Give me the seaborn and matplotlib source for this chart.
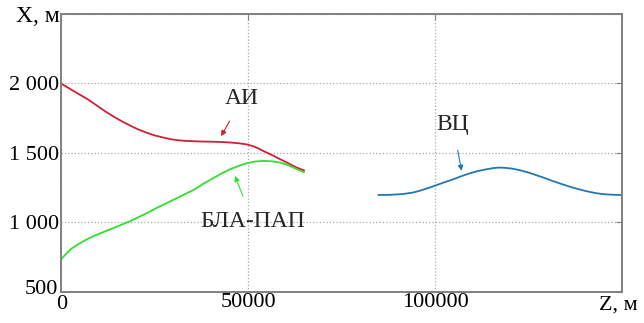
import pandas as pd
import numpy as np
import seaborn as sns
import matplotlib.pyplot as plt
from matplotlib.ticker import FuncFormatter
from matplotlib.transforms import ScaledTranslation

# values
ai_z = [0, 2800, 5000, 7300, 9500, 11800, 14000, 16200, 18500, 20700, 23000, 25100, 27500, 29600, 31500,
        33200, 36000, 38500, 40700, 43000, 45000, 47500, 49600, 51500, 53000, 54100, 55500, 57000, 58600,
        60500, 62100, 63500, 65000]
ai_x = [2000, 1955, 1920, 1884, 1843, 1800, 1763, 1729, 1697, 1669, 1645, 1626, 1610, 1598, 1591,
        1587, 1584, 1582, 1581, 1579, 1576, 1570, 1562, 1548, 1530, 1514, 1497, 1477, 1455,
        1430, 1407, 1390, 1375]

bla_z = [0, 1400, 2800, 5000, 7300, 9500, 11800, 14000, 16200, 18500, 20700, 23000, 25100, 27500, 29600,
         31500, 33200, 35400, 38000, 40700, 43000, 45200, 47500, 49600, 52000, 54100, 56500, 58600, 60500,
         62100, 63500, 65000]
bla_x = [735, 775, 812, 850, 884, 911, 936, 960, 984, 1010, 1038, 1068, 1098, 1130, 1157,
         1182, 1205, 1233, 1278, 1319, 1354, 1383, 1407, 1426, 1439, 1443, 1440, 1431, 1415,
         1395, 1378, 1362]

vc_z = [84800, 88000, 91500, 94000, 96000, 98200, 100400, 102600, 104900, 107000, 109400, 111600, 113800,
        115500, 117000, 118800, 120500, 122700, 124900, 127100, 129400, 131600, 133900, 136100, 138300,
        140500, 142800, 144600, 146500, 148300, 150000]
vc_x = [1198, 1199, 1205, 1215, 1229, 1248, 1269, 1290, 1311, 1333, 1355, 1371, 1383,
        1391, 1395, 1393, 1388, 1376, 1360, 1340, 1319, 1297, 1276, 1257, 1240,
        1225, 1212, 1205, 1201, 1199, 1198]

df = pd.concat([
    pd.DataFrame({"Z": ai_z, "X": ai_x, "name": "АИ"}),
    pd.DataFrame({"Z": bla_z, "X": bla_x, "name": "БЛА-ПАП"}),
    pd.DataFrame({"Z": vc_z, "X": vc_x, "name": "ВЦ"}),
])
colors = {"АИ": "#cc2233", "БЛА-ПАП": "#33dd33", "ВЦ": "#2277b4"}

sns.set_style("white")
plt.rcParams['font.family'] = ['Liberation Serif', 'DejaVu Serif']

fig = plt.figure(figsize=(6.44, 3.23), dpi=100)
ax = fig.add_axes([0.0947, 0.096, 0.8713, 0.8607])

for name in ["АИ", "БЛА-ПАП", "ВЦ"]:
    sns.lineplot(data=df[df["name"] == name], x="Z", y="X", color=colors[name],
                 linewidth=1.3, sort=False, ax=ax, estimator=None)

ax.set_xlim(0, 150000)
ax.set_ylim(500, 2500)
ax.set_xticks([0, 50000, 100000, 150000])
ax.set_yticks([500, 1000, 1500, 2000, 2500])
ax.xaxis.set_major_formatter(FuncFormatter(lambda v, p: "Z, м" if v == 150000 else "%d" % v))
ax.yaxis.set_major_formatter(FuncFormatter(lambda v, p: "X, м" if v == 2500 else ("%d" % v if v < 1000 else "%d %03d" % (v // 1000, v % 1000))))
ax.set_xlabel("")
ax.set_ylabel("")
ax.tick_params(direction="in", length=4, top=True, right=True, labelsize=16, colors="#808080", labelcolor="black", pad=1)
ax.grid(True, linestyle=":", color="#aaaaaa", linewidth=0.9)
for s in ax.spines.values():
    s.set_color("#808080")
    s.set_linewidth(1.4)

# nudge corner labels like the original
ylabels = ax.get_yticklabels()
ylabels[0].set_transform(ylabels[0].get_transform() + ScaledTranslation(-0.02, 0.05, fig.dpi_scale_trans))
ylabels[-1].set_fontsize(17)
xlabels = ax.get_xticklabels()
xlabels[0].set_transform(xlabels[0].get_transform() + ScaledTranslation(0.01, -0.02, fig.dpi_scale_trans))
xlabels[-1].set_transform(xlabels[-1].get_transform() + ScaledTranslation(-0.04, -0.02, fig.dpi_scale_trans))

# annotations
ax.annotate("АИ", xy=(42800, 1621), xytext=(48400, 1889), fontsize=17, ha="center", va="center",
            arrowprops=dict(arrowstyle="-|>", color=colors["АИ"], lw=0.8, shrinkA=7, shrinkB=0, mutation_scale=8))
ax.annotate("БЛА-ПАП", xy=(46500, 1336), xytext=(51300, 1007), fontsize=17, ha="center", va="center",
            arrowprops=dict(arrowstyle="-|>", color=colors["БЛА-ПАП"], lw=0.8, shrinkA=9, shrinkB=0, mutation_scale=8))
ax.annotate("ВЦ", xy=(107100, 1371), xytext=(104700, 1707), fontsize=17, ha="center", va="center",
            arrowprops=dict(arrowstyle="-|>", color=colors["ВЦ"], lw=0.8, shrinkA=9, shrinkB=0, mutation_scale=8))

fig.savefig("out.png", dpi=100, facecolor="white")
